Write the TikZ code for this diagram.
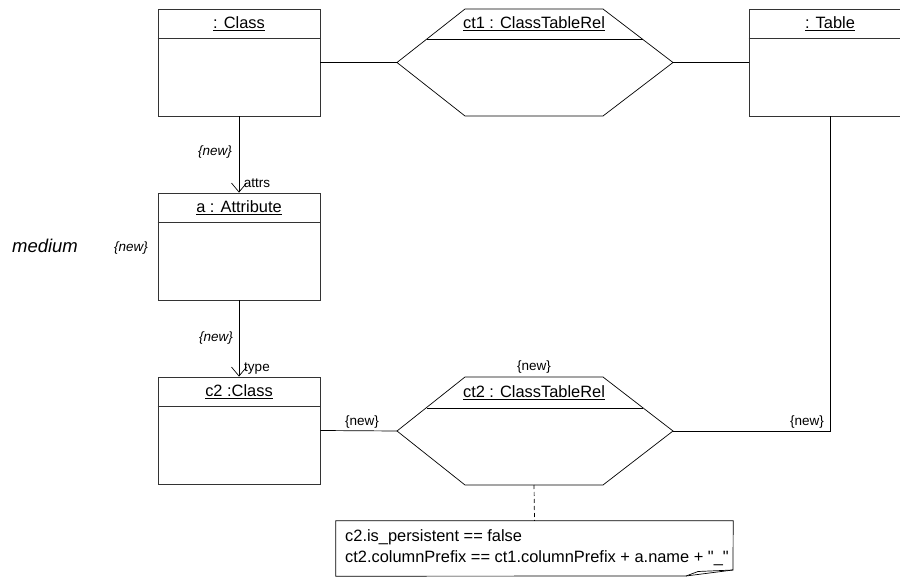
\documentclass[tikz,border=0pt]{standalone}
\usepackage{fontspec}
\setmainfont{Liberation Sans}
\newfontfamily\plainsans{Liberation Sans}[Ligatures=TeXOff]
\usetikzlibrary{arrows.meta,calc}
\begin{document}
\begin{tikzpicture}[x=1pt,y=-1pt,
  classbox/.style={draw=black!80, line width=0.8pt, minimum width=162pt, minimum height=107pt, inner sep=0pt},
  ttl/.style={font=\fontsize{16.4}{21}\selectfont, inner sep=0pt},
  lbl/.style={font=\fontsize{13.5}{16}\selectfont, inner sep=0pt},
  ilbl/.style={font=\fontsize{13.5}{16}\selectfont\itshape, inner sep=0pt},
  conn/.style={draw=black, line width=0.7pt},
  arr/.style={conn, -{Straight Barb[length=9pt,width=15pt,line width=0.7pt]}},
  hexline/.style={draw=black, line width=0.7pt},
]
\useasboundingbox (0,0) rectangle (900,577);
\clip (0,0) rectangle (900,577);

% class boxes
\node[classbox] (cls) at (239,62.5) {};
\node[classbox] (tbl) at (830,62.5) {};
\node[classbox] (attr) at (239,246.5) {};
\node[classbox] (c2) at (239,430.5) {};
\foreach \b in {cls,tbl,attr,c2}{
  \draw[draw=black!80, line width=0.8pt] ([yshift=-30pt]\b.north west) -- ([yshift=-30pt]\b.north east);
}
\node[ttl] (clsT) at ([yshift=-15pt]cls.north) {\underline{: Class}};
\node[ttl] (tblT) at ([yshift=-15pt]tbl.north) {\underline{: Table}};
\node[ttl] (attrT) at ([yshift=-15pt]attr.north) {\underline{a : Attribute}};
\node[ttl] (c2T) at ([yshift=-15pt]c2.north) {\underline{c2 :Class}};

% hexagons
\coordinate (ct1) at (534,62.5);
\draw[hexline] ($(ct1)+(-69,-53.5)$) -- ($(ct1)+(69,-53.5)$) -- ($(ct1)+(139,0)$) coordinate (ct1E)
  -- ($(ct1)+(69,53.5)$) -- ($(ct1)+(-69,53.5)$) -- ($(ct1)+(-137,0)$) coordinate (ct1W) -- cycle;
\draw[hexline] ($(ct1)+(-107.5,-23.5)$) -- ($(ct1)+(108.5,-23.5)$);
\node[ttl] (ct1T) at ($(ct1)+(0,-38.5)$) {\underline{ct1 : ClassTableRel}};

\coordinate (ct2) at (534,431);
\draw[hexline] ($(ct2)+(-69,-54)$) -- ($(ct2)+(69,-54)$) -- ($(ct2)+(139,0)$) coordinate (ct2E)
  -- ($(ct2)+(69,54)$) -- ($(ct2)+(-69,54)$) -- ($(ct2)+(-137,0)$) coordinate (ct2W) -- cycle;
\coordinate (ct2S) at ($(ct2)+(0,54)$);
\draw[hexline] ($(ct2)+(-107.5,-23)$) -- ($(ct2)+(108.5,-23)$);
\node[ttl] (ct2T) at ($(ct2)+(0,-38)$) {\underline{ct2 : ClassTableRel}};

% connectors
\draw[conn] (cls.east) -- (ct1W);
\draw[conn] (ct1E) -- (tbl.west);
\draw[arr] (cls.south) -- (attr.north);
\draw[arr] (attr.south) -- (c2.north);
\draw[conn] (c2.east) -- (ct2W);
\draw[conn] (ct2E) -| (tbl.south);

% note
\node[inner sep=0pt, minimum width=397pt, minimum height=55pt] (note) at (534.5,548.5) {};
\draw[conn] (note.north west) -- (note.north east) -- (733,570) -- (686,576) -- (note.south west) -- cycle;
\draw[conn] (733,570) -- (698,571.5) -- (686,576);
\draw[conn, dash pattern=on 4pt off 3pt] (ct2S) -- (note.north);
\node[ttl, anchor=west, align=left] (noteT) at (345,548) {\plainsans c2.is\_persistent == false\\\plainsans ct2.columnPrefix == ct1.columnPrefix + a.name + "\_"};

% labels
\node[ilbl] (l1) at (215,152) {\{new\}};
\node[lbl] (l2) at (257,183) {attrs};
\node[font=\fontsize{18.5}{22}\selectfont\itshape, inner sep=0pt] (med) at (45,246) {medium};
\node[ilbl] (l3) at (131,248) {\{new\}};
\node[ilbl] (l4) at (216,338) {\{new\}};
\node[lbl] (l5) at (257,369) {type};
\node[lbl] (l6) at (362,422) {\{new\}};
\node[lbl] (l7) at (534,367) {\{new\}};
\node[lbl] (l8) at (807,422) {\{new\}};
\end{tikzpicture}
\end{document}
